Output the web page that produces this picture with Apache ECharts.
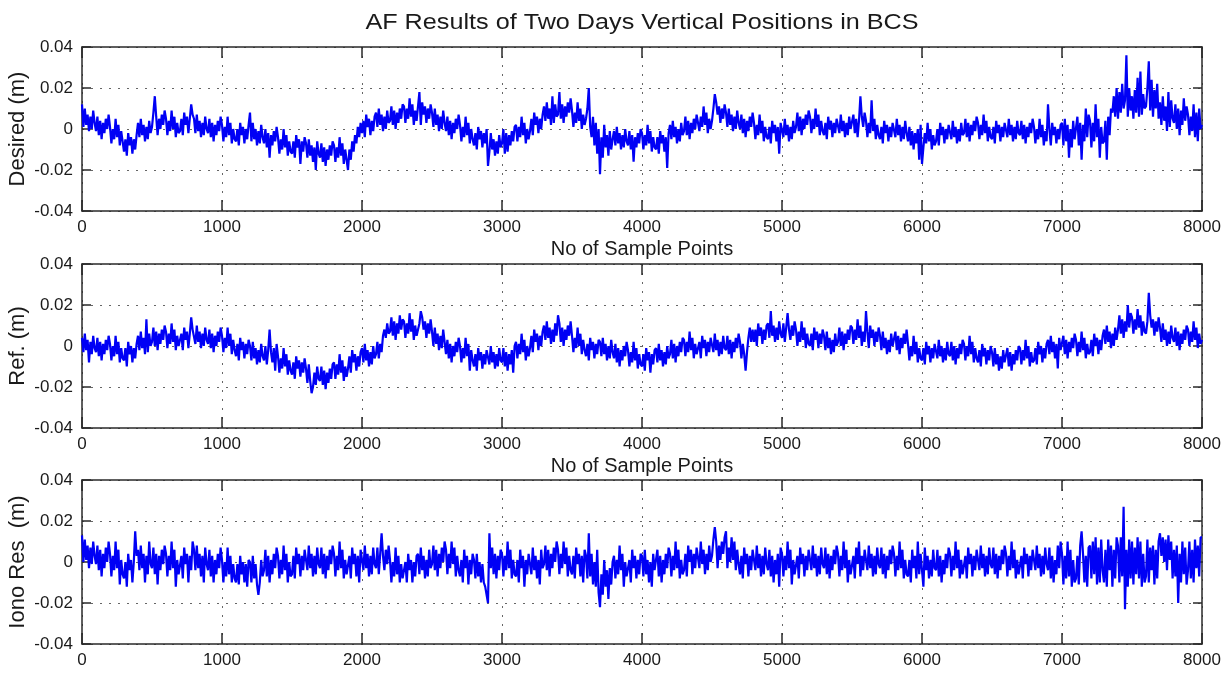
<!DOCTYPE html>
<html>
<head>
<meta charset="utf-8">
<title>AF Results of Two Days Vertical Positions in BCS</title>
<script src="https://cdn.jsdelivr.net/npm/echarts@6/dist/echarts.min.js"></script>
<style>
  html, body { margin: 0; padding: 0; background: #ffffff; }
  #chart { width: 1232px; height: 673px; }
</style>
</head>
<body>
<div id="chart"></div>
<script>
// ---- data -------------------------------------------------------------
// Vertical position series, one value every 10 samples, in millimetres
// (one row = 100 samples).
const sampleStep = 10;

const chartTitle = 'AF Results of Two Days Vertical Positions in BCS';
const xAxisTitle = 'No of Sample Points';
const panelNames = ['Desired (m)', 'Ref. (m)', 'Iono Res  (m)'];

const xTickRange = [0, 8000, 1000];       // min, max, step
const yTickRange = [-0.04, 0.04, 0.02];   // min, max, step

const desiredMm = [
  12,1,10,2,7,-1,6,0,9,3,
  -1,6,-3,4,-5,3,-2,5,0,7,
  1,-7,0,-5,5,-4,2,-8,-1,-6,
  -11,-5,-13,-2,-8,-4,-12,-5,-10,-3,
  3,-4,5,-3,2,-6,1,-5,4,-2,
  1,8,16,6,-3,5,0,7,2,9,
  5,-3,4,-1,9,0,6,-4,3,-2,
  -1,5,-3,8,2,6,-2,5,12,7,
  5,-2,7,-1,4,-4,3,-3,6,0,
  -2,5,-4,3,-6,2,-3,4,-1,6,
  2,-6,1,-4,6,-3,3,-7,0,-5,
  -6,0,-8,3,-3,1,-7,0,-5,2,
  8,-6,3,-5,0,-8,-1,-7,2,-4,
  -7,0,-9,-2,-14,-3,-8,-1,-6,1,
  -4,-12,-5,-10,0,-9,-3,-13,-6,-11,
  -12,-6,-14,-3,-9,-5,-17,-6,-11,-4,
  -7,-14,-5,-13,-8,-16,-9,-20,-6,-12,
  -14,-7,-16,-9,-18,-10,-15,-8,-13,-6,
  -8,-16,-9,-14,-4,-13,-7,-17,-10,-15,
  -20,-10,-15,-6,-11,-3,-7,1,-4,3,
  -2,4,-4,7,1,5,-3,4,-1,6,
  8,1,10,2,7,-1,6,0,9,3,
  4,11,2,9,0,8,3,10,5,12,
  11,3,10,5,15,6,12,2,9,4,
  4,18,2,13,7,11,3,10,5,12,
  8,1,10,2,7,-1,6,0,9,3,
  -1,6,-3,4,-5,3,-2,5,0,7,
  2,-6,1,-4,6,-3,3,-7,0,-5,
  -8,-2,-10,1,-5,-1,-9,-2,-7,0,
  -18,-11,-2,-10,-5,-13,-6,-12,-3,-9,
  -7,0,-12,-2,-11,-3,-8,-1,-6,1,
  2,-6,1,-4,6,-3,3,-7,0,-5,
  -1,5,-3,8,2,6,-2,5,0,7,
  11,4,13,5,10,2,16,3,12,6,
  7,18,5,12,3,11,6,13,8,15,
  9,1,8,3,13,4,10,0,7,2,
  5,10,20,1,-4,6,-8,3,-12,0,
  -22,-4,-14,2,-9,-3,-13,-1,-10,-5,
  -1,-8,1,-7,-2,-10,-3,-9,0,-6,
  -8,-1,-10,-3,-16,-4,-9,-2,-7,0,
  -2,-10,-3,-8,2,-7,-1,-11,-4,-9,
  -10,-4,-12,-1,-7,-3,-11,-4,-19,-2,
  2,-5,4,-4,1,-7,0,-6,3,-3,
  -1,6,-3,4,-5,3,-2,5,0,7,
  7,-1,6,1,11,2,8,-2,5,0,
  4,10,17,13,7,11,3,10,5,12,
  8,1,10,2,7,-1,6,0,9,3,
  0,7,-2,5,-4,4,-1,6,1,8,
  3,-5,2,-3,7,-2,4,-6,1,-4,
  -5,1,-7,4,-2,2,-6,1,-12,3,
  3,-4,5,-3,2,-6,1,-5,4,-2,
  1,8,-1,6,-3,5,0,7,2,9,
  6,-2,5,0,10,1,7,-3,4,-1,
  -3,3,-5,6,0,4,-4,3,-2,5,
  5,-2,7,-1,4,-4,3,-3,6,0,
  0,7,-2,5,-4,4,16,6,1,8,
  4,-4,3,-2,14,-1,5,-5,2,-3,
  -5,1,-7,4,-2,2,-6,1,-4,3,
  3,-4,5,-3,2,-6,1,-5,4,-2,
  -6,1,-8,-1,-10,-2,-7,0,-15,2,
  -17,-9,-2,-7,3,-6,0,-10,-3,-8,
  -6,0,-8,3,-3,1,-7,0,-5,2,
  2,-5,4,-4,1,-7,0,-6,3,-3,
  -2,5,-4,3,-6,2,-3,4,-1,6,
  3,-5,2,-3,7,-2,4,-6,1,-4,
  -5,1,-7,4,-2,2,-6,1,-4,3,
  3,-4,5,-3,2,-6,1,-5,4,-2,
  -3,4,-5,2,-7,1,-4,3,-2,5,
  1,-7,0,-5,5,-4,2,-8,-1,-6,
  12,0,-8,3,-3,1,-7,0,-5,2,
  3,-8,5,-6,2,-14,0,-9,4,-5,
  -5,6,-8,3,-15,2,-6,10,-4,7,
  4,-9,3,-6,12,-4,5,-14,1,-7,
  -6,4,-15,6,-3,10,8,16,6,20,
  5,18,8,22,10,14,36,6,20,9,
  16,5,19,8,25,6,28,7,17,10,
  11,20,33,9,24,6,19,10,22,5,
  13,2,16,4,11,-1,18,1,14,5,
  3,12,0,10,-3,9,2,15,4,11,
  7,-3,6,-1,12,-4,8,-6,10,0,
  2
];

const refMm = [
  4,-3,6,-2,3,-8,2,-4,5,-1,
  -3,4,-5,2,-7,1,-4,3,-2,5,
  1,-7,0,-5,5,-4,2,-8,-1,-6,
  -7,-1,-10,2,-4,0,-8,-1,-6,1,
  5,-2,7,-1,4,-4,13,-3,6,0,
  2,9,0,7,-2,6,1,8,3,10,
  7,-1,6,1,11,2,8,-2,5,0,
  0,6,-2,9,3,7,-1,6,14,8,
  8,1,10,2,7,-1,6,0,9,3,
  1,8,-1,6,-3,5,0,7,2,9,
  5,-3,4,-1,9,0,6,-4,3,-2,
  -5,1,-7,4,-2,2,-6,1,-4,3,
  0,-7,2,-6,-1,-9,-2,-8,1,-5,
  -7,0,-9,-2,8,-3,-8,-1,-12,1,
  -5,-13,-6,-11,-1,-10,-4,-14,-7,-12,
  -14,-8,-16,-5,-11,-7,-15,-8,-13,-6,
  -11,-18,-9,-17,-23,-20,-13,-19,-10,-16,
  -17,-10,-19,-12,-21,-13,-18,-11,-16,-9,
  -8,-16,-9,-14,-4,-13,-7,-17,-10,-15,
  -11,-5,-13,-2,-8,-4,-12,-5,-10,-3,
  -1,-8,1,-7,-2,-10,-3,-9,0,-6,
  -4,2,-6,1,-3,5,8,4,11,6,
  7,14,5,12,3,11,6,15,8,13,
  12,4,11,6,16,7,13,3,10,5,
  5,11,17,14,8,12,4,11,6,13,
  7,0,9,1,6,-2,5,-1,8,2,
  -4,3,-6,1,-8,0,-5,2,-3,4,
  0,-8,-1,-6,4,-5,1,-12,-2,-7,
  -10,-4,-12,-1,-7,-3,-11,-4,-9,-2,
  -2,-9,0,-8,-3,-11,-4,-10,-1,-7,
  -8,-1,-10,-3,-12,-4,-9,-2,-13,0,
  2,-6,1,-4,6,-3,3,-7,0,-5,
  -1,5,-3,8,2,6,-2,5,0,7,
  10,3,12,4,9,1,8,2,11,5,
  15,11,2,9,0,8,3,10,5,12,
  5,-3,4,-1,9,0,6,-4,3,-2,
  -5,1,-7,4,-2,2,-6,1,-4,3,
  2,-5,4,-4,1,-7,0,-6,3,-3,
  -6,1,-8,-1,-10,-2,-7,0,-5,2,
  -2,-10,-3,-8,2,-7,-1,-11,-4,-9,
  -10,-4,-12,-1,-7,-3,-13,-4,-9,-2,
  -1,-8,1,-7,-2,-10,-3,-9,0,-6,
  -4,3,-6,1,-8,0,-5,2,-3,4,
  3,-5,2,-3,7,-2,4,-6,1,-4,
  -4,2,-6,5,-1,3,-5,2,-3,4,
  4,-3,6,-2,3,-5,2,-4,5,-1,
  -2,5,-4,3,-6,2,-3,4,-1,6,
  2,-6,1,-4,-12,-3,4,9,2,8,
  2,8,0,11,5,9,1,8,3,10,
  11,4,17,5,10,2,9,3,12,6,
  4,11,2,9,16,8,3,10,5,12,
  8,0,7,2,12,3,9,-1,6,1,
  0,6,-2,9,3,7,-1,6,1,8,
  5,-2,7,-1,4,-4,3,-3,6,0,
  2,9,0,7,-2,6,1,8,3,10,
  9,1,8,3,13,4,10,0,7,2,
  17,7,-1,10,4,8,0,7,2,9,
  5,-2,7,-1,4,-4,3,-3,6,0,
  0,7,-2,5,-4,4,-1,6,1,8,
  1,-7,0,-5,5,-4,2,-8,-1,-6,
  -7,-1,-9,2,-4,0,-8,-1,-6,1,
  1,-6,3,-5,0,-8,-1,-7,2,-4,
  -5,2,-7,0,-9,-1,-6,1,-4,3,
  1,-7,0,-5,5,-4,2,-8,-1,-6,
  -8,-2,-10,1,-5,-1,-9,-2,-7,0,
  -3,-10,-1,-9,-4,-12,-5,-11,-2,-8,
  -8,-1,-10,-3,-12,-4,-9,-2,-7,0,
  -1,-9,-2,-7,3,-6,0,-10,-3,-8,
  -7,-1,-9,2,-4,0,-8,-1,-6,1,
  3,-4,5,-3,2,-6,1,-11,4,-2,
  -2,5,-4,3,-6,2,-3,4,-1,6,
  3,-5,2,-3,7,-2,4,-6,1,-4,
  -3,3,-5,6,0,4,-4,3,-2,5,
  8,1,10,2,7,-1,6,0,9,3,
  8,15,6,13,4,12,7,20,9,16,
  14,6,13,8,18,9,15,5,12,7,
  6,12,26,15,9,13,5,12,7,14,
  9,2,11,3,8,0,7,1,10,4,
  2,9,0,7,-2,6,1,8,3,10,
  8,0,7,2,12,3,9,-1,6,1,
  3
];

const ionoMm = [
  13,0,11,1,8,-3,7,-1,10,3,
  -1,8,-4,6,-7,4,-3,7,0,10,
  4,-7,3,-4,10,-3,6,-11,1,-6,
  -8,0,-12,4,-4,1,-10,0,15,3,
  6,-4,8,-3,4,-10,3,-6,10,-1,
  -3,7,-6,4,-11,3,-4,6,-1,8,
  4,-7,3,-4,10,-3,6,-12,1,-6,
  -6,3,-8,7,-1,4,-10,3,-4,10,
  6,-4,8,-3,4,-7,3,-10,7,-1,
  -4,6,-7,3,-10,1,-6,4,-3,7,
  1,-10,0,-7,7,-6,3,-10,-1,-8,
  -10,-1,-11,3,-6,0,-10,-1,-12,1,
  0,-10,3,-8,-1,-11,-16,-10,1,-7,
  -4,6,-7,3,-10,1,-6,4,-3,7,
  3,-8,1,-6,8,-4,4,-10,0,-7,
  -6,3,-8,7,-1,4,-7,3,-4,6,
  6,-4,8,-3,4,-7,3,-6,7,-1,
  -3,7,-6,4,-8,3,-4,6,-1,8,
  4,-7,3,-4,10,-3,6,-8,1,-6,
  -6,3,-8,7,-1,4,-7,3,-10,6,
  6,-4,8,-3,4,-7,3,-6,7,-1,
  -3,7,-6,4,14,3,-4,6,-1,8,
  1,-10,0,-7,7,-6,3,-10,-1,-8,
  -8,0,-10,4,-4,1,-10,0,-7,3,
  4,-6,7,-4,3,-8,1,-7,6,-3,
  -1,8,-4,6,-7,4,-3,7,0,10,
  6,-6,4,-3,10,-1,7,-7,3,-4,
  -7,1,-10,6,-3,3,-11,1,-6,4,
  1,-8,4,-7,0,-10,-1,-10,-12,-12,
  -20,14,-3,7,-6,4,-8,3,-4,6,
  4,-7,3,-4,10,-3,6,-8,1,-6,
  -7,1,-10,6,-3,3,-12,1,-6,4,
  4,-6,7,-4,3,-8,1,-11,6,-3,
  -1,8,-4,6,-7,4,-3,7,0,10,
  6,-6,4,-3,10,-1,7,-7,3,-4,
  -6,3,-8,7,-1,4,-7,3,-10,6,
  3,-8,14,-7,4,-11,0,-12,6,-15,
  -22,-6,-16,1,-12,-4,-18,-3,-11,0,
  3,-8,1,-6,8,-4,4,-12,0,-7,
  -7,1,-10,6,-3,3,-8,1,-6,4,
  3,-7,6,-6,1,-10,0,-12,4,-4,
  -4,6,-7,3,-10,1,-6,4,-3,7,
  4,-7,3,-4,10,-3,6,-8,1,-6,
  -4,4,-7,8,0,6,-6,4,-3,7,
  7,-3,10,-1,6,-6,4,-4,8,0,
  3,11,17,10,-3,8,1,10,4,12,
  15,-3,7,0,12,1,10,-4,6,-1,
  -6,3,-8,7,-1,4,-7,3,-4,6,
  6,-4,8,-3,4,-7,3,-6,7,-1,
  -4,6,-7,3,-10,1,-6,4,-12,7,
  4,-7,3,-4,10,-3,6,-11,1,-6,
  -6,3,-8,7,-1,4,-7,3,-4,6,
  6,-4,8,-3,4,-7,3,-6,7,-1,
  -3,7,-6,4,-8,3,-4,6,-1,8,
  4,-7,3,-4,10,-3,6,-10,1,-6,
  -6,3,-8,7,-1,10,-7,3,-4,6,
  6,-4,8,-3,4,-7,3,-6,7,-1,
  -3,7,-6,4,-8,3,-4,6,-1,8,
  4,-7,3,-4,10,-3,6,-8,1,-6,
  -7,1,-10,6,-3,3,-8,10,-6,4,
  4,-12,7,-4,3,-8,1,-7,6,-3,
  -4,6,-7,3,-10,1,-6,4,-3,7,
  4,-7,3,-4,10,-3,6,-8,1,-6,
  -6,3,-8,7,-1,4,-7,3,-4,6,
  6,-4,8,-3,4,-7,3,-6,7,-1,
  -3,7,-6,4,-8,3,-4,6,-1,8,
  4,-7,3,-4,10,-3,6,-8,1,-6,
  -6,3,-8,7,-1,4,-7,3,-4,6,
  6,-4,8,-3,4,-7,3,-6,7,-1,
  -4,7,-8,3,-10,1,-6,8,-3,10,
  4,-11,3,-8,10,-7,6,-12,1,-10,
  -8,3,-11,8,15,4,-10,3,-12,7,
  8,-8,10,-6,12,-11,7,-10,11,-4,
  -10,6,-12,11,-4,8,-12,6,-8,12,
  8,-10,12,-7,27,-23,6,-12,11,-8,
  10,-11,7,-6,12,-8,10,-12,4,-10,
  -7,11,-10,7,-4,8,-11,6,-8,10,
  14,3,12,0,11,-4,13,1,10,-8,
  6,-7,8,-20,4,-10,10,-6,7,-11,
  -4,10,-8,6,-10,11,-3,8,-7,12,
  12
];

const panelSeries = [desiredMm, refMm, ionoMm];

// ---- layout -----------------------------------------------------------
const fontFamily = "'Liberation Sans', Arial, Helvetica, sans-serif";
const plotLeft = 82, plotWidth = 1120, plotHeight = 164;
const plotTops = [47, 264, 480];
const inkColor = '#1a1a1a';
const frameColor = '#2a2a2a';
const gridDots = { color: '#666666', width: 1, type: [2, 7] };

const toPairs = (mm) => mm.map((v, i) => [i * sampleStep, v / 1000]);
const xLabel = (v) => String(v);
const yLabel = (v) => String(Math.round(v * 100) / 100);

const grids = [], xAxes = [], yAxes = [], series = [];

plotTops.forEach((top, k) => {
  grids.push({
    left: plotLeft, top: top, width: plotWidth, height: plotHeight,
    containLabel: false, outerBoundsMode: 'none'
  });

  // bottom x axis with labels and dotted vertical grid
  xAxes.push({
    type: 'value', gridIndex: k, position: 'bottom',
    min: xTickRange[0], max: xTickRange[1], interval: xTickRange[2],
    name: k < 2 ? xAxisTitle : '',
    nameLocation: 'middle', nameGap: 28, nameMoveOverlap: false,
    nameTextStyle: { fontFamily, fontSize: 20, color: inkColor },
    axisLine: { show: true, onZero: false, lineStyle: { color: frameColor, width: 1.5 } },
    axisTick: { show: true, inside: true, length: 11, lineStyle: { color: frameColor, width: 1.5 } },
    axisLabel: { show: true, margin: 8, fontFamily, fontSize: 17, color: inkColor, formatter: xLabel },
    splitLine: { show: true, lineStyle: gridDots }
  });
  // top x axis: frame edge with inward ticks
  xAxes.push({
    type: 'value', gridIndex: k, position: 'top',
    min: xTickRange[0], max: xTickRange[1], interval: xTickRange[2],
    axisLine: { show: true, onZero: false, lineStyle: { color: frameColor, width: 1.5 } },
    axisTick: { show: true, inside: true, length: 11, lineStyle: { color: frameColor, width: 1.5 } },
    axisLabel: { show: false },
    splitLine: { show: false }
  });

  // left y axis with labels and dotted horizontal grid
  yAxes.push({
    type: 'value', gridIndex: k, position: 'left',
    min: yTickRange[0], max: yTickRange[1], interval: yTickRange[2],
    name: panelNames[k], nameLocation: 'middle', nameGap: 53, nameMoveOverlap: false,
    nameTextStyle: { fontFamily, fontSize: 22, color: inkColor },
    axisLine: { show: true, onZero: false, lineStyle: { color: frameColor, width: 1.5 } },
    axisTick: { show: true, inside: true, length: 9, lineStyle: { color: frameColor, width: 1.5 } },
    axisLabel: { show: true, margin: 9, fontFamily, fontSize: 17, color: inkColor, formatter: yLabel },
    splitLine: { show: true, lineStyle: gridDots }
  });
  // right y axis: frame edge with inward ticks
  yAxes.push({
    type: 'value', gridIndex: k, position: 'right',
    min: yTickRange[0], max: yTickRange[1], interval: yTickRange[2],
    axisLine: { show: true, onZero: false, lineStyle: { color: frameColor, width: 1.5 } },
    axisTick: { show: true, inside: true, length: 9, lineStyle: { color: frameColor, width: 1.5 } },
    axisLabel: { show: false },
    splitLine: { show: false }
  });

  series.push({
    type: 'line',
    name: panelNames[k],
    xAxisIndex: 2 * k,
    yAxisIndex: 2 * k,
    data: toPairs(panelSeries[k]),
    showSymbol: false,
    symbol: 'none',
    clip: true,
    lineStyle: { color: '#0000f5', width: 2.2, join: 'bevel' },
    emphasis: { disabled: true },
    z: 3
  });
});

const chart = echarts.init(document.getElementById('chart'), null, { renderer: 'canvas' });
chart.setOption({
  animation: false,
  backgroundColor: '#ffffff',
  grid: grids,
  xAxis: xAxes,
  yAxis: yAxes,
  series: series,
  graphic: [{
    type: 'text',
    x: plotLeft + plotWidth / 2,
    y: 23,
    scaleX: 1.12,
    style: {
      text: chartTitle,
      font: '22.5px ' + fontFamily,
      fill: inkColor,
      textAlign: 'center',
      textVerticalAlign: 'middle'
    }
  }]
});
</script>
</body>
</html>
